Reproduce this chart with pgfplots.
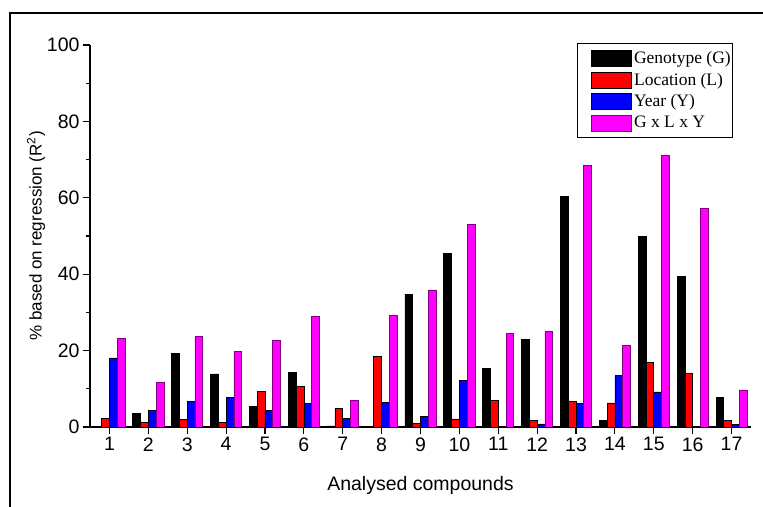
\documentclass[border=0pt]{standalone}
\usepackage{pgfplots}
\pgfplotsset{compat=1.18}
\usepackage{fontspec}
\setmainfont{Liberation Sans}
\newfontfamily\legfont{Liberation Serif}
\definecolor{mypurple}{RGB}{128,0,128}
\definecolor{mymag}{RGB}{255,0,255}
\definecolor{myred}{RGB}{255,0,0}
\definecolor{myblue}{RGB}{0,0,255}
\pgfplotstableread{
x G L Y GLY
1 0.2 2.3 18.1 23.2
2 3.5 1.2 4.4 11.7
3 19.2 2.0 6.7 23.6
4 13.9 1.2 7.7 19.7
5 5.4 9.3 4.4 22.7
6 14.3 10.6 6.2 28.9
7 0.3 4.9 2.3 7.0
8 0.1 18.4 6.5 29.2
9 34.8 1.0 2.7 35.9
10 45.4 2.1 12.3 53.0
11 15.4 7.0 0.2 24.6
12 23.0 1.8 0.8 25.0
13 60.3 6.7 6.2 68.5
14 1.7 6.3 13.4 21.3
15 49.9 16.9 9.2 71.0
16 39.5 14.0 0.2 57.2
17 7.8 1.8 0.7 9.7
}\datatable
\begin{document}
\begin{tikzpicture}
\begin{axis}[
  at={(0,0)}, anchor=south west,
  scale only axis, width=661pt, height=382pt,
  xmin=0.5, xmax=17.5, ymin=0, ymax=100,
  axis x line*=bottom, axis y line*=left,
  axis line style={-, line width=1.1pt},
  ybar=0pt, bar width=0.2,
  xtick={1,...,17}, ytick={0,20,...,100},
  minor y tick num=1,
  tick align=outside,
  major tick length=7pt, minor tick length=4pt,
  tick style={line width=1.1pt, black},
  /pgf/number format/assume math mode=true,
  ticklabel style={font=\fontsize{19.5}{21}\selectfont},
  xlabel style={font=\fontsize{19.5}{21}\selectfont, yshift=-18pt},
  ylabel style={font=\fontsize{17}{19}\selectfont, yshift=-5pt},
  xlabel={Analysed compounds},
  ylabel={\% based on regression (R\textsuperscript{2})},
  legend style={at={(0.973,1.005)}, anchor=north east,
    font=\legfont\fontsize{17.5}{19}\selectfont,
    draw=black, line width=0.8pt, inner xsep=0pt, inner ysep=6pt,
    row sep=4pt},
  legend cell align=left,
]
\pgfplotsset{mylegend/.style={legend image code/.code={\path (0pt,0pt); \draw[##1, line width=0.7pt] (14pt,-8pt) rectangle (54pt,8pt);}}}
\addplot[fill=black, draw=black, line width=0.7pt, mylegend] table[x=x, y=G] {\datatable};
\addplot[fill=myred, draw=black, line width=0.7pt, mylegend] table[x=x, y=L] {\datatable};
\addplot[fill=myblue, draw=black, line width=0.7pt, mylegend] table[x=x, y=Y] {\datatable};
\addplot[fill=mymag, draw=mypurple, line width=0.7pt, mylegend] table[x=x, y=GLY] {\datatable};
\legend{Genotype (G), Location (L), Year (Y), G x L x Y}
\end{axis}
\draw[line width=2.4pt] (-80pt,-80pt) -- (-80pt,414pt) -- (675pt,414pt);
\pgfresetboundingbox
\useasboundingbox (-90pt,-79pt) rectangle (673pt,427pt);
\end{tikzpicture}
\end{document}
